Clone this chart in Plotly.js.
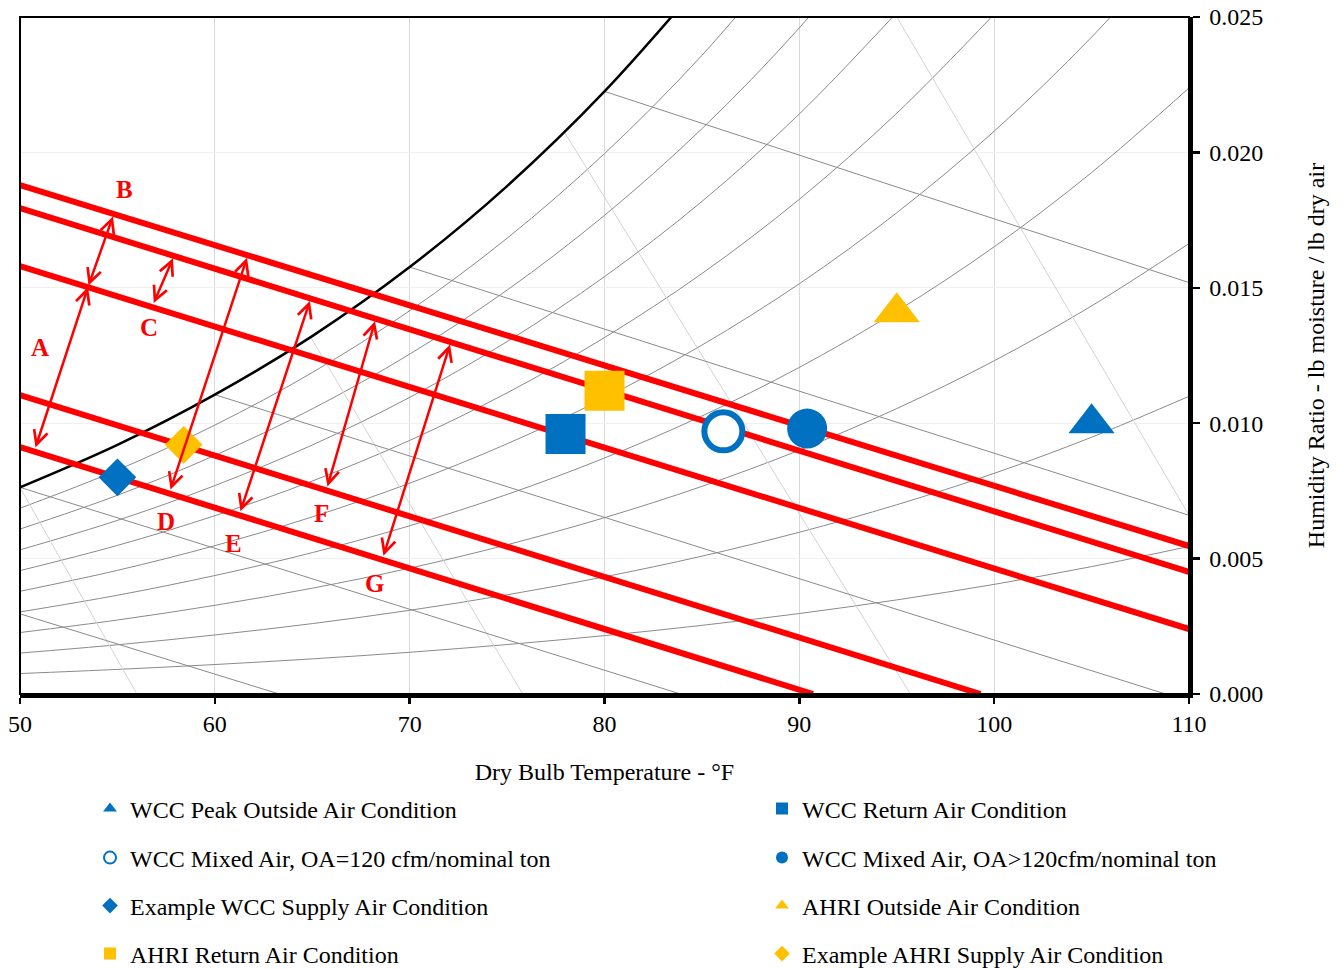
<!DOCTYPE html>
<html><head><meta charset="utf-8">
<script src="https://cdn.plot.ly/plotly-3.0.1.min.js"></script>
<style>html,body{margin:0;padding:0;background:#fff}#chart{width:1343px;height:969px}</style>
</head><body><div id="chart"></div>
<script>
// ---- grid temperatures (°F) ----
const tGrid = [50,55,60,65,70,75,80,85,90,95,100,105,110];
// saturation humidity ratio (lb/lb)
const satW = [0.007632,0.009200,0.011053,0.013217,0.015766,0.018757,0.022252,0.026314];
// relative humidity curves 10%..90% (lb/lb) read at tGrid
const rh10 = [0.000755,0.000908,0.001088,0.001297,0.001541,0.001826,0.002156,0.002535,0.002972,0.003475,0.004048,0.004705,0.005448];
const rh20 = [0.001512,0.001818,0.002180,0.002599,0.003091,0.003663,0.004327,0.005090,0.005973,0.006988,0.008149,0.009482,0.010993];
const rh30 = [0.002270,0.002732,0.003275,0.003907,0.004647,0.005511,0.006512,0.007667,0.009002,0.010541,0.012305,0.014331,0.016636];
const rh40 = [0.003031,0.003647,0.004375,0.005220,0.006212,0.007369,0.008714,0.010265,0.012061,0.014135,0.016515,0.019256,0.022381];
const rh50 = [0.003793,0.004566,0.005478,0.006539,0.007784,0.009239,0.010930,0.012884,0.015150,0.017770,0.020782,0.024258,0.028230];
const rh60 = [0.004557,0.005487,0.006585,0.007864,0.009364,0.011120,0.013163,0.015526,0.018269,0.021446,0.025106];
const rh70 = [0.005323,0.006411,0.007696,0.009194,0.010953,0.013012,0.015411,0.018189,0.021419,0.025165];
const rh80 = [0.006091,0.007338,0.008811,0.010529,0.012549,0.014915,0.017675,0.020874,0.024599,0.028928];
const rh90 = [0.006860,0.008267,0.009930,0.011870,0.014153,0.016830,0.019955,0.023583,0.027812];

// wet-bulb lines (start / end)
const wbT0 = [50, 50, 60, 70, 80];
const wbW0 = [0.002959, 0.007632, 0.011053, 0.015766, 0.022252];
const wbT1 = [63.3, 83.9, 108.8, 110, 110];
const wbW1 = [0, 0, 0, 0.00660, 0.015193];

// specific volume lines (start / end)
const volT0 = [50, 64.9, 77.9, 95.0];
const volW0 = [0.00763, 0.0132, 0.0208, 0.0250];
const volT1 = [56.0, 75.8, 95.7, 110];
const volW1 = [0, 0, 0, 0.0066];

// red constant-enthalpy lines (start / end)
const redT0 = [50, 50, 50, 50, 50];
const redW0 = [0.018796, 0.017947, 0.015805, 0.011041, 0.009121];
const redT1 = [110, 110, 110, 99.3, 90.7];
const redW1 = [0.005465, 0.004505, 0.002400, 0, 0];

// double arrows and their letters
const arrowLetters = ['A','B','C','D','E','F','G'];
const arrowTopT = [53.49, 54.77, 57.85, 61.65, 64.88, 68.22, 72.07];
const arrowTopW = [0.015025, 0.017636, 0.016088, 0.016107, 0.014514, 0.013766, 0.012903];
const arrowBotT = [50.77, 53.49, 56.83, 57.70, 61.29, 65.76, 68.63];
const arrowBotW = [0.009048, 0.015025, 0.014379, 0.007495, 0.006691, 0.007611, 0.005046];
const letterT = [51.03, 55.34, 56.62, 57.49, 60.98, 65.45, 68.17];
const letterW = [0.012814, 0.018648, 0.013516, 0.006388, 0.005576, 0.006684, 0.004099];

// condition points
const pointNames = ['WCC Peak Outside Air Condition','WCC Return Air Condition',
  'WCC Mixed Air, OA=120 cfm/nominal ton','WCC Mixed Air, OA>120cfm/nominal ton',
  'Example WCC Supply Air Condition','AHRI Outside Air Condition',
  'AHRI Return Air Condition','Example AHRI Supply Air Condition'];
const pointT = [105, 78, 86.1, 90.4, 55, 95, 80, 58.4];
const pointW = [0.0100, 0.0096, 0.0097, 0.0098, 0.0080, 0.0141, 0.0112, 0.0092];

// ---- styles ----
const BLUE = '#0070C0', YEL = '#FFC000';
const pointStyle = [
  {symbol:'triangle-up', size:40, color:BLUE},
  {symbol:'square', size:40, color:BLUE},
  {symbol:'circle', size:38, color:'#ffffff', line:{color:BLUE, width:6}},
  {symbol:'circle', size:40, color:BLUE},
  {symbol:'diamond', size:29, color:BLUE},
  {symbol:'triangle-up', size:40, color:YEL},
  {symbol:'square', size:40, color:YEL},
  {symbol:'diamond', size:29, color:YEL}
];
const FONT = "'Liberation Serif','Times New Roman',serif";
const legendIds = ['legend','legend2','legend3','legend4','legend5','legend6','legend7','legend8'];
// legend slots: left pixel edge and text-centre row
const colLeft = [90, 762];
const rowY = [809, 858, 906, 954];

const traces = [];
const rhAll = [rh10,rh20,rh30,rh40,rh50,rh60,rh70,rh80,rh90];
rhAll.forEach(arr => traces.push({x: tGrid.slice(0, arr.length), y: arr, mode:'lines',
  line:{color:'#8a8a8a', width:1, shape:'spline'}, hoverinfo:'skip', showlegend:false}));
volT0.forEach((t,i) => traces.push({x:[t, volT1[i]], y:[volW0[i], volW1[i]], mode:'lines',
  line:{color:'#d3d3d3', width:1}, hoverinfo:'skip', showlegend:false}));
wbT0.forEach((t,i) => traces.push({x:[t, wbT1[i]], y:[wbW0[i], wbW1[i]], mode:'lines',
  line:{color:'#8a8a8a', width:1}, hoverinfo:'skip', showlegend:false}));
traces.push({x: tGrid.slice(0, satW.length), y: satW, mode:'lines',
  line:{color:'#000', width:2.5, shape:'spline'}, hoverinfo:'skip', showlegend:false});
redT0.forEach((t,i) => traces.push({x:[t, redT1[i]], y:[redW0[i], redW1[i]], mode:'lines',
  line:{color:'#FF0000', width:6}, hoverinfo:'skip', showlegend:false}));
pointNames.forEach((n,i) => traces.push({x:[pointT[i]], y:[pointW[i]], mode:'markers', name:n,
  legend: legendIds[i], marker: pointStyle[i], cliponaxis:false}));

const annotations = [];
arrowLetters.forEach((L,i) => {
  annotations.push({x: arrowTopT[i], y: arrowTopW[i], ax: arrowBotT[i], ay: arrowBotW[i],
    xref:'x', yref:'y', axref:'x', ayref:'y', text:'', showarrow:true,
    arrowside:'end+start', arrowhead:5, startarrowhead:5, arrowsize:1.1, startarrowsize:1.1,
    arrowwidth:2.5, arrowcolor:'#FF0000', standoff:0, startstandoff:0});
  annotations.push({x: letterT[i], y: letterW[i], xref:'x', yref:'y', text: L, showarrow:false,
    font:{family:FONT, size:25, color:'#FF0000', weight:'bold'}});
});

const layout = {
  width:1343, height:969,
  margin:{l:20, r:154, t:17, b:275, autoexpand:false},
  paper_bgcolor:'#fff', plot_bgcolor:'#fff',
  font:{family:FONT, size:24, color:'#000'},
  showlegend:true,
  xaxis:{range:[50,110], dtick:10, tick0:50, showgrid:true, gridcolor:'#d9d9d9', gridwidth:1,
    zeroline:false, showline:true, linecolor:'#000', linewidth:3.5, ticks:'outside', ticklen:6,
    tickwidth:2.5, tickcolor:'#000', ticklabelstandoff:0, tickfont:{family:FONT, size:24},
    title:{text:'Dry Bulb Temperature - °F', font:{family:FONT, size:24}, standoff:28}},
  yaxis:{range:[0,0.025], dtick:0.005, tick0:0, side:'right', tickformat:'.3f', showgrid:true,
    gridcolor:'#f0f0f0', gridwidth:1, zeroline:false, showline:true, linecolor:'#000', linewidth:3.5,
    ticks:'outside', ticklen:7, tickwidth:2.5, tickcolor:'#000', ticklabelstandoff:5,
    tickfont:{family:FONT, size:24},
    title:{text:'Humidity Ratio - lb moisture / lb dry air', font:{family:FONT, size:24}, standoff:46}},
  shapes:[{type:'rect', xref:'paper', yref:'paper', x0:0, x1:1, y0:0, y1:1, line:{color:'#000', width:2}}],
  annotations: annotations
};
legendIds.forEach((id,i) => {
  layout[id] = {orientation:'h', x: (colLeft[i % 2] - 20)/1169, xanchor:'left',
    y: (694 - rowY[Math.floor(i/2)])/677, yanchor:'middle',
    bgcolor:'rgba(0,0,0,0)', font:{family:FONT, size:24, color:'#000'},
    itemsizing:'constant', traceorder:'normal'};
});

Plotly.newPlot('chart', traces, layout, {displayModeBar:false, staticPlot:true});
</script></body></html>
